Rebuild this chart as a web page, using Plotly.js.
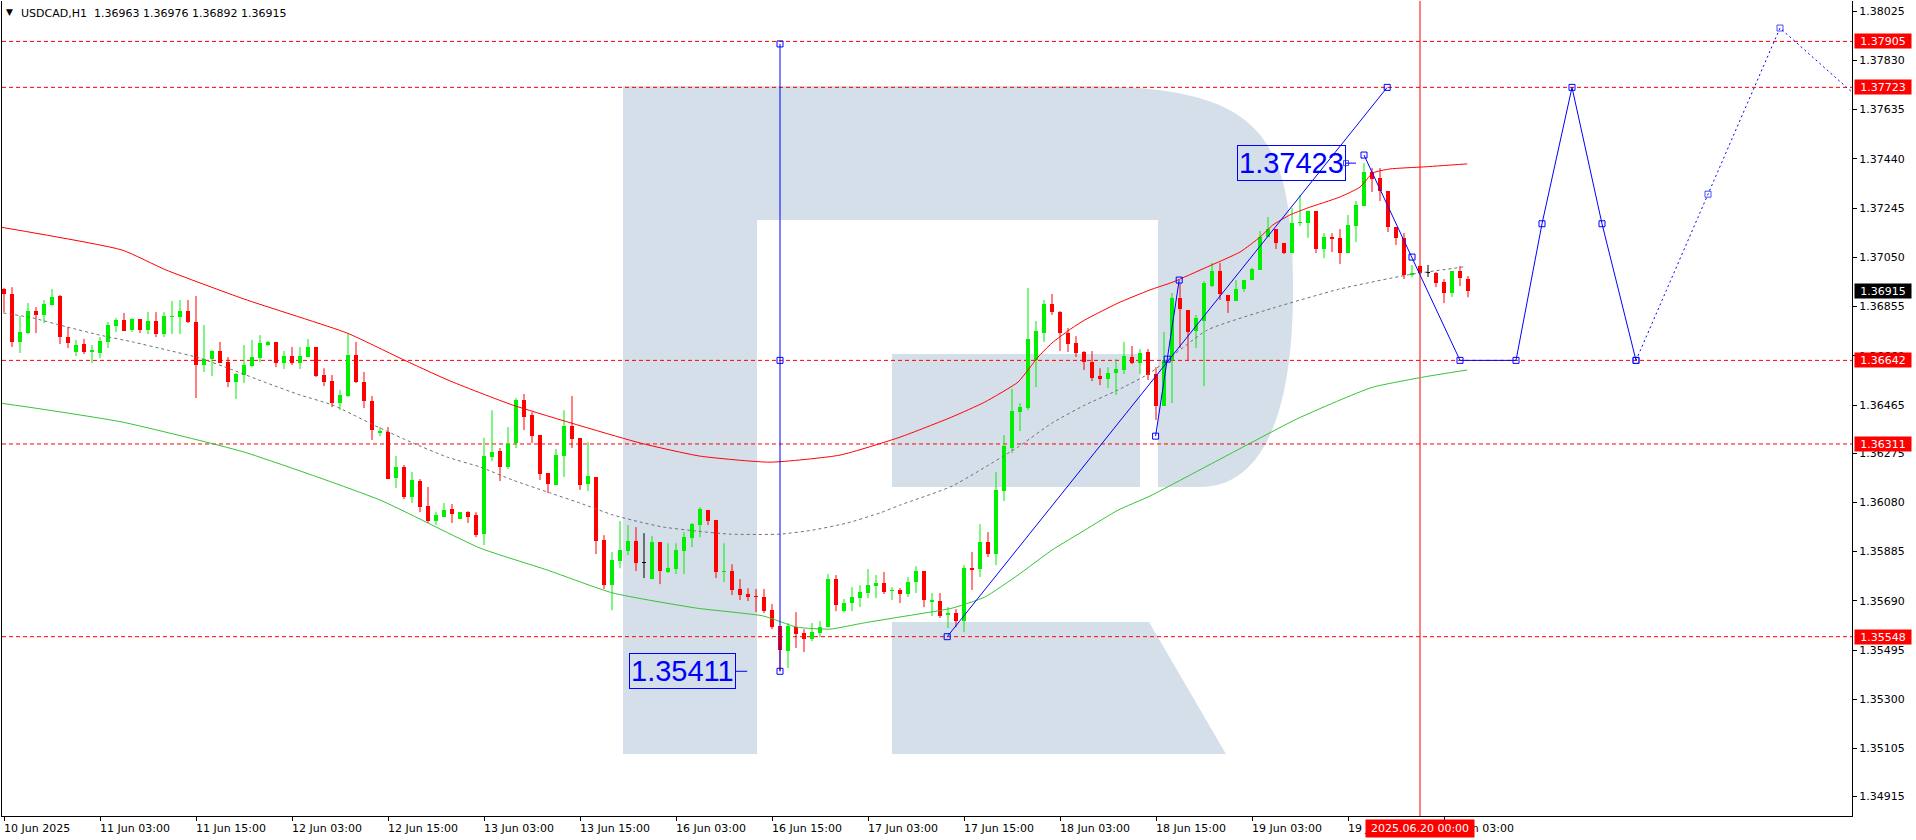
<!DOCTYPE html>
<html>
<head>
<meta charset="utf-8">
<script src="https://cdn.plot.ly/plotly-3.0.1.min.js"></script>
<style>
html,body{margin:0;padding:0;background:#ffffff;overflow:hidden;}
#chart{width:1916px;height:840px;}
</style>
</head>
<body>
<div id="chart"></div>
<script>
// ---------- DATA (USDCAD H1, bar index 0 = 10 Jun 2025 15:00) ----------
const symbolName = 'USDCAD,H1';
const open = [
1.36925,1.36905,1.36715,1.36750,1.36837,1.36822,1.36861,1.36897,1.36734,1.36675,
1.36707,1.36675,1.36671,1.36715,1.36778,1.36802,1.36762,1.36806,1.36762,1.36798,
1.36746,1.36814,1.36814,1.36837,1.36794,1.36623,1.36647,1.36679,1.36635,1.36556,
1.36584,1.36619,1.36651,1.36703,1.36715,1.36631,1.36659,1.36631,1.36655,1.36695,
1.36584,1.36560,1.36473,1.36501,1.36663,1.36556,1.36481,1.36354,1.36358,1.36176,
1.36220,1.36101,1.36164,1.36065,1.36006,1.36022,1.36053,1.36014,1.36041,1.36029,
1.35954,1.36259,1.36283,1.36220,1.36315,1.36485,1.36426,1.36346,1.36196,1.36148,
1.36263,1.36382,1.36335,1.36152,1.36180,1.35930,1.35752,1.35847,1.35887,1.35926,
1.35839,1.35776,1.35922,1.35804,1.35816,1.35887,1.35938,1.35990,1.36049,1.36010,
1.35804,1.35808,1.35737,1.35717,1.35709,1.35705,1.35653,1.35590,1.35491,1.35586,
1.35562,1.35538,1.35562,1.35586,1.35776,1.35649,1.35681,1.35701,1.35721,1.35748,
1.35760,1.35729,1.35733,1.35717,1.35764,1.35808,1.35685,1.35689,1.35634,1.35641,
1.35610,1.35819,1.35816,1.35922,1.35875,1.36125,1.36295,1.36437,1.36453,1.36643,
1.36750,1.36865,1.36833,1.36750,1.36711,1.36675,1.36635,1.36580,1.36568,1.36592,
1.36604,1.36655,1.36631,1.36675,1.36588,1.36461,1.36643,1.36889,1.36841,1.36758,
1.36798,1.36936,1.36996,1.36901,1.36877,1.36925,1.36960,1.37000,1.37130,1.37162,
1.37107,1.37067,1.37186,1.37186,1.37233,1.37083,1.37130,1.37127,1.37067,1.37174,
1.37253,1.37388,1.37364,1.37313,1.37170,1.37127,1.36980,1.37016,1.36988,1.36988,
1.36952,1.36909,1.36996,1.36963];
const high = [
1.36929,1.36932,1.36818,1.36869,1.36853,1.36881,1.36925,1.36901,1.36774,1.36723,
1.36727,1.36703,1.36734,1.36794,1.36810,1.36830,1.36810,1.36806,1.36833,1.36833,
1.36833,1.36877,1.36881,1.36881,1.36897,1.36782,1.36683,1.36715,1.36655,1.36592,
1.36703,1.36723,1.36742,1.36719,1.36715,1.36679,1.36695,1.36695,1.36727,1.36695,
1.36611,1.36584,1.36525,1.36750,1.36715,1.36596,1.36501,1.36378,1.36378,1.36263,
1.36228,1.36200,1.36172,1.36141,1.36041,1.36077,1.36073,1.36041,1.36045,1.36041,
1.36335,1.36445,1.36295,1.36378,1.36493,1.36509,1.36437,1.36346,1.36196,1.36291,
1.36445,1.36501,1.36335,1.36319,1.36180,1.35950,1.35883,1.36006,1.35990,1.35982,
1.35958,1.35946,1.35922,1.35918,1.35918,1.35962,1.35998,1.36061,1.36049,1.36010,
1.35918,1.35835,1.35776,1.35740,1.35737,1.35737,1.35677,1.35590,1.35602,1.35645,
1.35578,1.35602,1.35610,1.35796,1.35792,1.35697,1.35744,1.35752,1.35816,1.35792,
1.35804,1.35744,1.35740,1.35784,1.35827,1.35808,1.35721,1.35721,1.35665,1.35657,
1.35831,1.35883,1.35994,1.35962,1.36200,1.36346,1.36529,1.36473,1.36929,1.36798,
1.36881,1.36905,1.36837,1.36770,1.36738,1.36679,1.36679,1.36611,1.36615,1.36647,
1.36715,1.36699,1.36687,1.36687,1.36615,1.36754,1.36909,1.36948,1.36841,1.36822,
1.36956,1.37028,1.37028,1.36901,1.36960,1.36960,1.37008,1.37154,1.37210,1.37162,
1.37107,1.37245,1.37297,1.37233,1.37233,1.37146,1.37146,1.37162,1.37218,1.37273,
1.37423,1.37404,1.37404,1.37313,1.37170,1.37146,1.37020,1.37016,1.37020,1.36992,
1.36964,1.36996,1.37016,1.36976];
const low = [
1.36833,1.36695,1.36671,1.36746,1.36750,1.36790,1.36857,1.36707,1.36691,1.36659,
1.36667,1.36631,1.36651,1.36691,1.36754,1.36758,1.36754,1.36750,1.36746,1.36734,
1.36734,1.36746,1.36746,1.36790,1.36493,1.36596,1.36580,1.36631,1.36536,1.36489,
1.36552,1.36615,1.36635,1.36699,1.36615,1.36608,1.36623,1.36608,1.36655,1.36576,
1.36540,1.36457,1.36445,1.36497,1.36552,1.36453,1.36327,1.36342,1.36172,1.36137,
1.36093,1.36077,1.36041,1.35998,1.35990,1.36022,1.35998,1.36014,1.35998,1.35942,
1.35911,1.36243,1.36164,1.36212,1.36295,1.36366,1.36315,1.36168,1.36117,1.36148,
1.36180,1.36295,1.36129,1.36125,1.35875,1.35737,1.35653,1.35819,1.35871,1.35808,
1.35780,1.35776,1.35756,1.35800,1.35796,1.35796,1.35903,1.35942,1.35990,1.35780,
1.35764,1.35713,1.35693,1.35689,1.35645,1.35641,1.35578,1.35411,1.35424,1.35503,
1.35487,1.35530,1.35546,1.35586,1.35649,1.35645,1.35649,1.35665,1.35701,1.35701,
1.35717,1.35693,1.35681,1.35705,1.35721,1.35665,1.35630,1.35622,1.35582,1.35586,
1.35566,1.35733,1.35784,1.35863,1.35831,1.36085,1.36275,1.36362,1.36445,1.36536,
1.36715,1.36822,1.36679,1.36675,1.36655,1.36604,1.36560,1.36544,1.36533,1.36505,
1.36588,1.36627,1.36588,1.36564,1.36406,1.36461,1.36473,1.36691,1.36643,1.36691,
1.36540,1.36932,1.36881,1.36830,1.36877,1.36913,1.36960,1.37000,1.37130,1.37083,
1.37063,1.37067,1.37174,1.37127,1.37067,1.37047,1.37071,1.37024,1.37067,1.37111,
1.37253,1.37309,1.37273,1.37150,1.37099,1.36964,1.36972,1.36984,1.36972,1.36932,
1.36869,1.36893,1.36936,1.36892];
const close = [
1.36905,1.36715,1.36754,1.36837,1.36822,1.36865,1.36893,1.36734,1.36711,1.36703,
1.36675,1.36683,1.36719,1.36782,1.36802,1.36758,1.36806,1.36762,1.36798,1.36746,
1.36818,1.36818,1.36837,1.36794,1.36623,1.36647,1.36679,1.36631,1.36556,1.36588,
1.36623,1.36655,1.36711,1.36715,1.36631,1.36659,1.36631,1.36659,1.36695,1.36580,
1.36556,1.36473,1.36505,1.36663,1.36556,1.36481,1.36366,1.36362,1.36172,1.36220,
1.36101,1.36168,1.36061,1.36006,1.36029,1.36049,1.36033,1.36041,1.36022,1.35950,
1.36263,1.36279,1.36220,1.36311,1.36485,1.36418,1.36342,1.36192,1.36152,1.36267,
1.36382,1.36331,1.36148,1.36184,1.35926,1.35752,1.35851,1.35891,1.35926,1.35839,
1.35839,1.35922,1.35808,1.35819,1.35891,1.35942,1.35994,1.36053,1.36006,1.35804,
1.35808,1.35733,1.35713,1.35705,1.35705,1.35649,1.35586,1.35495,1.35590,1.35558,
1.35538,1.35566,1.35586,1.35776,1.35673,1.35681,1.35705,1.35725,1.35752,1.35760,
1.35725,1.35733,1.35717,1.35764,1.35808,1.35693,1.35693,1.35630,1.35641,1.35610,
1.35819,1.35812,1.35922,1.35875,1.36129,1.36303,1.36441,1.36457,1.36727,1.36758,
1.36865,1.36833,1.36750,1.36707,1.36671,1.36635,1.36572,1.36568,1.36592,1.36608,
1.36659,1.36631,1.36671,1.36584,1.36461,1.36643,1.36889,1.36845,1.36754,1.36810,
1.36948,1.36996,1.36905,1.36877,1.36925,1.36960,1.37004,1.37130,1.37162,1.37107,
1.37067,1.37186,1.37190,1.37233,1.37083,1.37130,1.37123,1.37067,1.37178,1.37257,
1.37388,1.37360,1.37313,1.37170,1.37127,1.36980,1.36988,1.36988,1.36988,1.36948,
1.36909,1.36996,1.36968,1.36915];

// time axis labels (bar index -> label)
const tickIdx  = [0,12,24,36,48,60,72,84,96,108,120,132,144,156,168,180];
const tickText = ['10 Jun 2025','11 Jun 03:00','11 Jun 15:00','12 Jun 03:00','12 Jun 15:00','13 Jun 03:00',
  '13 Jun 15:00','16 Jun 03:00','16 Jun 15:00','17 Jun 03:00','17 Jun 15:00','18 Jun 03:00',
  '18 Jun 15:00','19 Jun 03:00','19 Jun 15:00','20 Jun 03:00'];
const cursorIdx = 177;
const cursorLabel = '2025.06.20 00:00';

// price axis
const priceTicks = [1.38025,1.37830,1.37635,1.37440,1.37245,1.37050,1.36855,1.36660,1.36465,
  1.36275,1.36080,1.35885,1.35690,1.35495,1.35300,1.35105,1.34915];
const levelPrices = [1.37905,1.37723,1.36642,1.36311,1.35548];
const currentPrice = 1.36915;

// moving averages (sampled along the drawn curves)
const maRedX = [-0.5,14.75,20.25,30,42.9,49.5,55.5,63.6,79.5,87,95.75,104.5,112,118.5,122.6,126.75,128,129.25,131,133.5,135.1,139.25,143.25,146.1,150.4,154.5,157,158.6,160.75,162.9,167,169.5,171.1,173.25,177.4,182.9];
const maRedY = [1.37170,1.37079,1.37000,1.36885,1.36750,1.36651,1.36564,1.36465,1.36315,1.36263,1.36239,1.36267,1.36338,1.36418,1.36477,1.36556,1.36604,1.36655,1.36711,1.36770,1.36802,1.36869,1.36921,1.36952,1.37012,1.37071,1.37130,1.37178,1.37218,1.37245,1.37289,1.37328,1.37384,1.37400,1.37408,1.37420];
const maGreenX = [-0.5,4.75,14.75,30,47,59.5,67.9,76.1,86.6,94.9,99.1,103.25,107.4,112,118.5,122.6,126.75,131,135.1,139.25,143.25,152.25,161.6,167,171.1,177.4,182.9];
const maGreenY = [1.36473,1.36449,1.36398,1.36279,1.36089,1.35899,1.35812,1.35721,1.35661,1.35630,1.35586,1.35578,1.35602,1.35626,1.35661,1.35705,1.35792,1.35891,1.35970,1.36049,1.36105,1.36255,1.36410,1.36485,1.36536,1.36576,1.36604];
const maGrayX = [-0.1,3.6,7.9,12,16.1,20.4,24.5,28.6,32.9,37,41.1,47,51.1,55.4,59.5,63.6,67.9,72,76.1,79.5,82.4,86.6,90.75,97,101.1,105.4,109.5,112,118.5,126.75,131,135.1,139.25,143.25,150.4,158.6,167,175.4,182.4];
const maGrayY = [1.36830,1.36810,1.36774,1.36742,1.36715,1.36683,1.36651,1.36604,1.36552,1.36505,1.36465,1.36374,1.36315,1.36259,1.36220,1.36168,1.36121,1.36077,1.36030,1.36002,1.35982,1.35966,1.35954,1.35954,1.35970,1.35998,1.36038,1.36069,1.36144,1.36299,1.36394,1.36465,1.36525,1.36592,1.36762,1.36849,1.36925,1.36980,1.37012];

// blue analysis / forecast lines
const projVertX = [97,97,97];
const projVertY = [1.35411,1.36642,1.37895];
const riseX = [117.9,172.9];
const riseY = [1.35548,1.37723];
const shortX = [143.95,145.4,146.9];
const shortY = [1.36342,1.36647,1.36960];
const fcX = [170,176,182,189,192.25,196,199.75,204];
const fcY = [1.37455,1.37051,1.36642,1.36642,1.37183,1.37723,1.37183,1.36642];
const fcDotX = [204,213,222,231.5];
const fcDotY = [1.36642,1.37300,1.37958,1.37690];
const highLabelAt = {idx:167.75, tip:169.0};
const lowLabelAt = {idx:91.5, tip:92.9};

// ---------- BUILD ----------
const n = open.length;
const idx = open.map((_, i) => i);
const upI = [], dnI = [], djI = [];
idx.forEach(i => { if (close[i] === open[i]) djI.push(i); else if (close[i] > open[i]) upI.push(i); else dnI.push(i); });
const MINB = 0.00004;
const GREEN = '#00ee00', RED = '#ff0000', BLUE = '#0000ff';

function bodyTrace(list, color) {
  return {type:'bar', x:list, base:list.map(i => Math.min(open[i], close[i])),
    y:list.map(i => Math.max(Math.abs(close[i]-open[i]), MINB)),
    width:0.62, marker:{color:color, line:{width:0}}, hoverinfo:'skip', cliponaxis:true};
}
function wickTrace(list, color) {
  const x = [], y = [];
  list.forEach(i => { x.push(i, i, null); y.push(low[i], high[i], null); });
  return {type:'scatter', mode:'lines', x:x, y:y, line:{color:color, width:1}, hoverinfo:'skip'};
}
function lineTrace(x, y, color, extra) {
  return Object.assign({type:'scatter', mode:'lines', x:x, y:y, line:{color:color, width:1}, hoverinfo:'skip'}, extra || {});
}

const hiVal = Math.max(...high), loVal = Math.min(...low);

const traces = [
  wickTrace(upI, GREEN), wickTrace(dnI, RED), wickTrace(djI, '#000000'),
  bodyTrace(upI, GREEN), bodyTrace(dnI, RED), bodyTrace(djI, '#000000'),
  lineTrace(maGrayX, maGrayY, '#707070', {line:{color:'#707070', width:1, dash:'3px,3px', shape:'spline', smoothing:0.5}}),
  lineTrace(maRedX, maRedY, '#ff0000', {line:{color:'#ff0000', width:1, shape:'spline', smoothing:0.5}}),
  lineTrace(maGreenX, maGreenY, '#33c433', {line:{color:'#33c433', width:1, shape:'spline', smoothing:0.5}}),
  // blue lines
  {type:'scatter', mode:'lines+markers', x:projVertX, y:projVertY, line:{color:BLUE, width:1},
    marker:{symbol:'square-open', size:6, color:BLUE, line:{width:1, color:BLUE}}, hoverinfo:'skip'},
  {type:'scatter', mode:'lines+markers', x:riseX, y:riseY, line:{color:BLUE, width:1},
    marker:{symbol:'square-open', size:6, color:BLUE, line:{width:1, color:BLUE}}, hoverinfo:'skip'},
  {type:'scatter', mode:'lines+markers', x:shortX, y:shortY, line:{color:BLUE, width:1},
    marker:{symbol:'square-open', size:6, color:BLUE, line:{width:1, color:BLUE}}, hoverinfo:'skip'},
  {type:'scatter', mode:'lines+markers', x:fcX, y:fcY, line:{color:BLUE, width:1},
    marker:{symbol:'square-open', size:6, color:BLUE, line:{width:1, color:BLUE}}, hoverinfo:'skip'},
  {type:'scatter', mode:'lines+markers', x:fcDotX, y:fcDotY, line:{color:BLUE, width:1, dash:'2px,3px'},
    marker:{symbol:'square-open', size:fcDotX.map((_, k) => (k === fcDotX.length-1 ? 0 : 6)), color:BLUE, line:{width:1, color:BLUE}}, hoverinfo:'skip'},
  // label connectors
  {type:'scatter', mode:'lines+markers', x:[highLabelAt.idx, highLabelAt.tip], y:[hiVal, hiVal], line:{color:BLUE, width:1},
    marker:{symbol:'square-open', size:[5,0], color:BLUE, line:{width:1, color:BLUE}}, hoverinfo:'skip'},
  {type:'scatter', mode:'lines', x:[lowLabelAt.idx, lowLabelAt.tip], y:[loVal, loVal], line:{color:BLUE, width:1}, hoverinfo:'skip'}
];

// watermark "R" (pixel coordinates of the image -> paper)
const PL = 2, PR = 1852, PT = 1, PB = 816;
function pxp(x){ return ((x-PL)/(PR-PL)).toFixed(5); }
function pyp(y){ return ((PB-y)/(PB-PT)).toFixed(5); }
function P() {
  const a = Array.from(arguments); let s = ''; let k = 0;
  while (k < a.length) {
    if (typeof a[k] === 'string') { s += a[k] + ' '; k++; }
    else { s += pxp(a[k]) + ',' + pyp(a[k+1]) + ' '; k += 2; }
  }
  return s.trim();
}
const WM = '#d5dfea';
const shapes = [
  {type:'path', xref:'paper', yref:'paper', layer:'below', fillcolor:WM, line:{width:0},
   path:P('M',623,86,'L',1080,86,'C',1260,86,1293,130,1293,290,'C',1293,420,1260,487,1200,487,'L',1158,487,'L',1158,220,'L',757,220,'L',757,754,'L',623,754,'Z')},
  {type:'path', xref:'paper', yref:'paper', layer:'below', fillcolor:WM, line:{width:0},
   path:P('M',892,354,'L',1140,354,'L',1140,487,'L',892,487,'Z')},
  {type:'path', xref:'paper', yref:'paper', layer:'below', fillcolor:WM, line:{width:0},
   path:P('M',892,622,'L',1149,622,'L',1226,754,'L',892,754,'Z')}
];
levelPrices.forEach(p => shapes.push({type:'line', xref:'paper', yref:'y', x0:0, x1:1, y0:p, y1:p, layer:'below',
  line:{color:'#ff0000', width:1, dash:'4px,3px'}}));
shapes.push({type:'line', xref:'x', yref:'paper', x0:cursorIdx, x1:cursorIdx, y0:0, y1:1, layer:'below', line:{color:'#ff0000', width:1}});

const FONT = 'DejaVu Sans, Verdana, sans-serif';
const annotations = [];
// header
annotations.push({xref:'paper', yref:'paper', x:0, y:1, xanchor:'left', yanchor:'top', xshift:2, yshift:-4,
  text:'\u25BC', showarrow:false, font:{family:FONT, size:9, color:'#000'}});
annotations.push({xref:'paper', yref:'paper', x:0, y:1, xanchor:'left', yanchor:'top', xshift:17, yshift:-4,
  text:symbolName + '\u00a0\u00a0' + [open[n-1], high[n-1], low[n-1], close[n-1]].map(v => v.toFixed(5)).join(' '),
  showarrow:false, font:{family:FONT, size:11, color:'#000'}});
// time labels
tickIdx.forEach((t, k) => annotations.push({xref:'x', yref:'paper', x:t, y:0, xanchor:'left', yanchor:'top',
  xshift:-2, yshift:-4, text:tickText[k], showarrow:false, font:{family:FONT, size:11, color:'#000'}}));
// price level boxes
levelPrices.forEach(p => annotations.push({xref:'paper', yref:'y', x:1, y:p, xanchor:'left', yanchor:'middle', xshift:2,
  text:p.toFixed(5), showarrow:false, bgcolor:'#ff0000', width:56, height:14, borderpad:0,
  font:{family:FONT, size:11, color:'#ffffff'}}));
annotations.push({xref:'paper', yref:'y', x:1, y:currentPrice, xanchor:'left', yanchor:'middle', xshift:2,
  text:currentPrice.toFixed(5), showarrow:false, bgcolor:'#000000', width:56, height:14, borderpad:0,
  font:{family:FONT, size:11, color:'#ffffff'}});
// cursor date box
annotations.push({xref:'x', yref:'paper', x:cursorIdx, y:0, xanchor:'center', yanchor:'top', yshift:-3,
  text:cursorLabel, showarrow:false, bgcolor:'#ff0000', width:108, height:17, borderpad:0,
  font:{family:FONT, size:11, color:'#ffffff'}});
// extreme price labels
const boxFont = {family:'Liberation Sans Narrow, Liberation Sans, Arial, sans-serif', size:29, color:BLUE};
annotations.push({xref:'x', yref:'y', x:highLabelAt.idx, y:hiVal, xanchor:'right', yanchor:'middle',
  text:hiVal.toFixed(5), showarrow:false, bordercolor:BLUE, borderwidth:1, borderpad:1, font:boxFont});
annotations.push({xref:'x', yref:'y', x:lowLabelAt.idx, y:loVal, xanchor:'right', yanchor:'middle',
  text:loVal.toFixed(5), showarrow:false, bordercolor:BLUE, borderwidth:1, borderpad:1, font:boxFont});

const layout = {
  width:1916, height:840,
  margin:{l:PL, r:1916-PR, t:PT, b:840-PB, pad:0},
  paper_bgcolor:'#ffffff', plot_bgcolor:'#ffffff',
  showlegend:false, barmode:'overlay', bargap:0,
  xaxis:{range:[-0.25, 231], tickvals:tickIdx, showticklabels:false, ticks:'outside', ticklen:4,
    tickcolor:'#000', showline:true, linecolor:'#000', linewidth:1, showgrid:false, zeroline:false, fixedrange:true},
  yaxis:{range:[1.34838, 1.38065], side:'right', tickvals:priceTicks, ticktext:priceTicks.map(v => v.toFixed(5)),
    ticks:'outside', ticklen:4, tickcolor:'#000', showline:true, mirror:true, linecolor:'#000', linewidth:1,
    showgrid:false, zeroline:false, fixedrange:true, tickfont:{family:FONT, size:11, color:'#000'}},
  shapes:shapes, annotations:annotations
};

Plotly.newPlot('chart', traces, layout, {staticPlot:true, displayModeBar:false});
</script>
</body>
</html>
